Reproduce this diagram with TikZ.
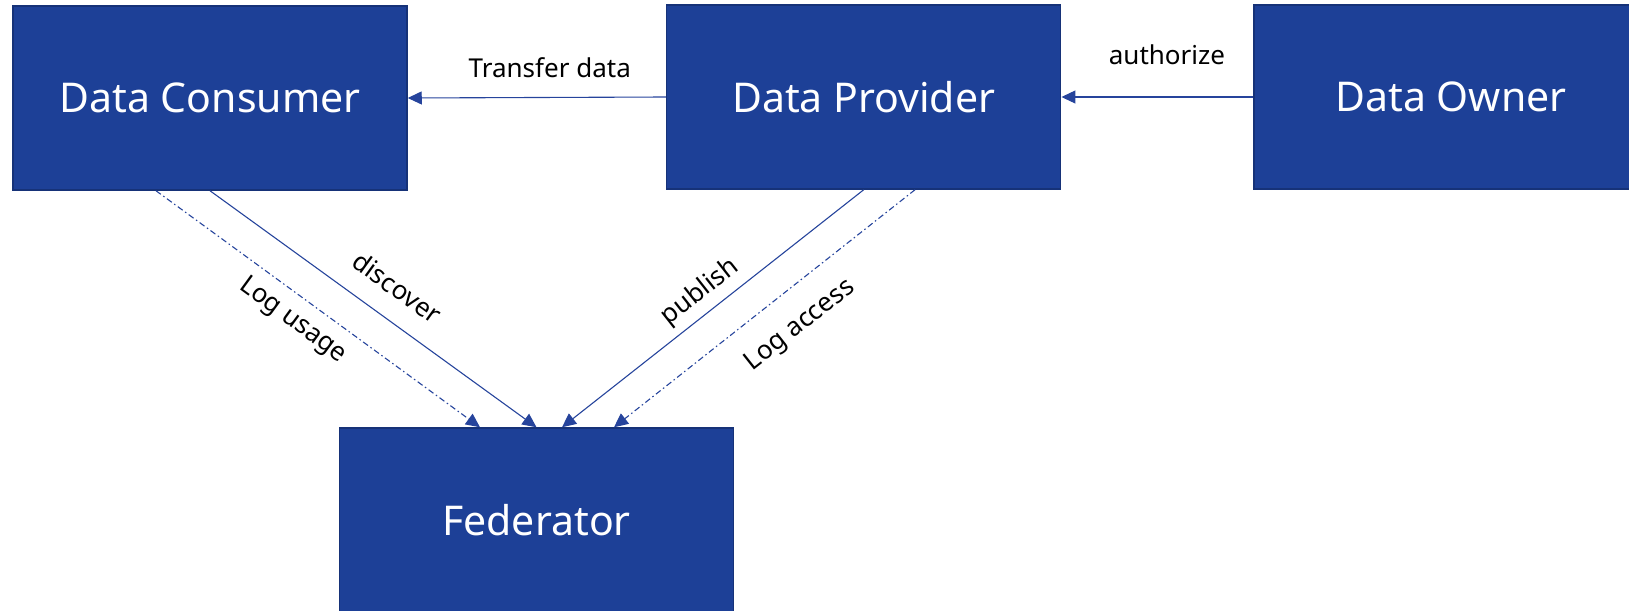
\documentclass[tikz,border=0pt]{standalone}
\usepackage{fontspec}
\setmainfont{Noto Sans}
\usetikzlibrary{arrows.meta}

\definecolor{boxblue}{RGB}{29,64,151}
\definecolor{boxedge}{RGB}{22,50,120}
\definecolor{lineblue}{RGB}{38,68,156}

\begin{document}
\begin{tikzpicture}[x=1pt,y=-1pt,
        party/.style={draw=boxedge,line width=1.5pt,fill=boxblue,text=white,
            font=\fontsize{41}{48}\selectfont,minimum width=394pt,minimum height=184pt,inner sep=0pt},
        flow/.style={draw=lineblue,line width=1.1pt,-{Triangle[length=14pt,width=13pt]}},
        logflow/.style={flow,dash pattern=on 6pt off 3pt on 1.5pt off 3pt},
        tag/.style={font=\fontsize{26}{30}\selectfont,inner sep=1pt}]
        \useasboundingbox (0,0) rectangle (1629,610);

        % boxes
        \node [party] (consumer)  at (210,98)    {Data Consumer};
        \node [party] (provider)  at (863.7,97)  {Data Provider};
        \node [party] (owner)     at (1451,97)   {Data Owner};
        \node [party] (federator) at (536.5,520) {Federator};

        % horizontal flows
        \draw [flow] (provider.west) -- (consumer.east)
            node [tag,pos=0.45,above=18.5pt] {Transfer data};
        \draw [flow] (owner.west) -- (provider.east)
            node [tag,pos=0.45,above=31pt] {authorize};

        % consumer to federator
        \draw [flow] (consumer.south) -- (federator.north)
            node [tag,sloped,pos=0.517,above=20pt] {discover};
        \draw [logflow] ([xshift=-54pt]consumer.south) -- ([xshift=-56.5pt]federator.north)
            node [tag,sloped,pos=0.466,below=10.4pt] {Log usage};

        % provider to federator
        \draw [flow] (provider.south) -- ([xshift=25.5pt]federator.north)
            node [tag,sloped,pos=0.5,above=6pt] {publish};
        \draw [logflow] ([xshift=51.3pt]provider.south) -- ([xshift=77.5pt]federator.north)
            node [tag,sloped,pos=0.454,below=21.8pt] {Log access};

    \end{tikzpicture}
\end{document}
